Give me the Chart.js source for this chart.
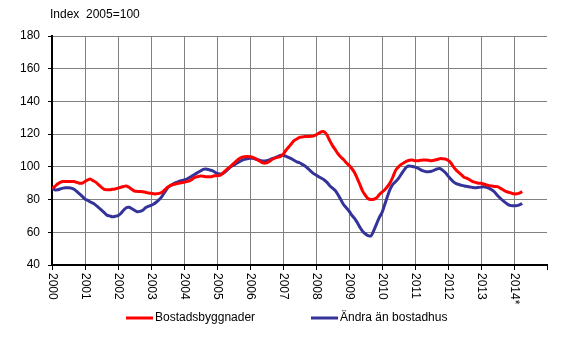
<!DOCTYPE html>
<html lang="sv">
<head>
<meta charset="utf-8">
<title>Byggkostnadsindex</title>
<script src="https://cdn.jsdelivr.net/npm/chart.js@4/dist/chart.umd.min.js"></script>
<style>
  html, body { margin: 0; padding: 0; background: #fff; }
  #wrap { position: relative; width: 568px; height: 338px; }
</style>
</head>
<body>
<div id="wrap"><canvas id="byggindex" width="568" height="338"></canvas></div>
<script>
  /* Månadsindex 2000:01 – 2014:04, index 2005=100 */
  const START_YEAR = 2000;
  const YEAR_LABELS = ['2000','2001','2002','2003','2004','2005','2006','2007',
                       '2008','2009','2010','2011','2012','2013','2014*'];

  const BOSTAD = [
    87, 88, 89.5, 90.5, 91, 91, 91, 91, 91, 90.5, 90, 90,                          // 2000
    91, 92, 92.5, 91.5, 90.5, 89, 87.5, 86.3, 86, 86, 86.3, 86.5,                  // 2001
    87, 87.5, 88, 88.3, 87.5, 86.3, 85.2, 85, 85, 84.8, 84.5, 84,                  // 2002
    83.8, 83.5, 83.5, 83.8, 84.5, 86, 87.5, 88.5, 89.2, 89.5, 90, 90.3,            // 2003
    90.5, 91, 91.5, 92.5, 93.5, 94, 94.4, 94.3, 94, 94, 94, 94.5,                  // 2004
    94.5, 94.8, 96, 97.5, 99, 100.5, 102, 103.5, 105, 105.8, 106.2, 106.3,         // 2005
    106.2, 105.8, 105, 104, 103, 102.3, 102.5, 103.3, 104.5, 105.3, 105.8, 106.3,  // 2006
    107.5, 110, 112, 114, 116, 117, 118, 118.3, 118.5, 118.5, 118.7, 118.8,        // 2007
    119.5, 120.5, 121.5, 121.5, 119.5, 116, 113, 110.5, 108, 106, 104.5, 102.5,    // 2008
    101, 99, 96.5, 93, 89, 85, 82.5, 80.5, 80, 80.2, 81, 83,                       // 2009
    84.5, 86, 88, 90.5, 94, 98, 100, 101.5, 102.5, 103.5, 104, 104.2,              // 2010
    103.8, 103.8, 104, 104.2, 104.2, 104, 103.8, 104, 104.5, 105, 105, 104.8,      // 2011
    104, 102.5, 100, 98, 96.5, 95, 93.5, 93, 92, 91, 90.5, 90,                     // 2012
    90, 89.5, 89, 88.5, 88.3, 88, 87.9, 87, 86, 85, 84.5, 84,                      // 2013
    83.5, 83.5, 84, 84.8                                                           // 2014
  ];

  const ANDRA = [
    86.9, 86, 86, 86.5, 87, 87.2, 87.2, 87, 86.3, 85, 83.5, 82,                    // 2000
    80.3, 79.5, 78.5, 77.7, 76.5, 75, 73.5, 72, 70.5, 70, 69.5, 69.8,              // 2001
    70.2, 71.5, 73.5, 75, 75.3, 74.5, 73.5, 72.6, 72.8, 73.5, 75, 75.8,            // 2002
    76.5, 77.3, 78.5, 80, 82, 84.5, 87, 88.5, 89.5, 90.3, 91, 91.5,                // 2003
    92, 92.5, 93.5, 94.5, 95.5, 96.5, 97.5, 98.5, 98.7, 98.3, 97.8, 97,            // 2004
    96, 95.6, 95.8, 97, 98.5, 100, 101, 102, 103, 104, 104.6, 105,                 // 2005
    105.2, 105.2, 104.8, 104.2, 103.8, 103.6, 103.8, 104.3, 105, 105.5, 106.2, 107,// 2006
    107.2, 106.5, 105.8, 105, 104, 103.1, 102.5, 101.5, 100.5, 99.1, 97.5, 96,     // 2007
    95, 94, 93, 92, 90.5, 88.5, 87, 85.5, 83, 80, 77, 75,                          // 2008
    73, 70.5, 68.5, 66, 63, 60.5, 59, 58, 57.8, 61, 65, 69,                        // 2009
    72, 77, 82, 86.5, 89.5, 91, 93, 95.5, 98, 100, 100.5, 100.2,                   // 2010
    99.8, 99.2, 98.3, 97.5, 97, 97, 97.3, 98, 98.7, 99, 98, 96.5,                  // 2011
    94.5, 92.5, 90.8, 89.8, 89.2, 88.7, 88.3, 88, 87.7, 87.4, 87.2, 87.4,          // 2012
    87.6, 87.9, 87.5, 86.8, 85.8, 84.5, 82.5, 80.8, 79.3, 78, 76.8, 76.3,          // 2013
    76.2, 76.3, 76.8, 77.6                                                         // 2014
  ];

  const SERIES_NAMES = ['Bostadsbyggnader', 'Ändra än bostadhus'];
  const RED  = '#ff0000';
  const BLUE = '#333399';
  const GRID = '#808080';
  const FONT = "'Liberation Sans', Arial, sans-serif";

  function toPoints(arr) {
    return arr.map(function (v, i) { return { x: START_YEAR + i / 12, y: v }; });
  }

  /* Rubrik, roterade årtal och förklaring ritas direkt på canvasen */
  const textPlugin = {
    id: 'textPlugin',
    afterDraw: function (chart) {
      const ctx = chart.ctx;
      const xs = chart.scales.x;
      const area = chart.chartArea;
      ctx.save();
      ctx.fillStyle = '#000';
      ctx.font = '12px ' + FONT;

      ctx.textAlign = 'left';
      ctx.textBaseline = 'alphabetic';
      ctx.fillText('Index  2005=100', 50, 18);

      // årtal, vridna 90° medurs
      ctx.textBaseline = 'middle';
      YEAR_LABELS.forEach(function (lab, i) {
        const px = xs.getPixelForValue(START_YEAR + i);
        ctx.save();
        ctx.translate(px + 0.5, area.bottom + 8);
        ctx.rotate(Math.PI / 2);
        ctx.fillText(lab, 0, 0);
        ctx.restore();
      });

      // förklaring
      const legendY = 318;
      [[126, RED], [311, BLUE]].forEach(function (item, i) {
        ctx.strokeStyle = item[1];
        ctx.lineWidth = 3;
        ctx.beginPath();
        ctx.moveTo(item[0], legendY);
        ctx.lineTo(item[0] + 27, legendY);
        ctx.stroke();
        ctx.fillText(SERIES_NAMES[i], item[0] + 29, legendY);
      });
      ctx.restore();
    }
  };

  new Chart(document.getElementById('byggindex'), {
    type: 'line',
    data: {
      datasets: [
        {
          label: SERIES_NAMES[0],
          data: toPoints(BOSTAD),
          borderColor: RED,
          borderWidth: 3,
          pointRadius: 0,
          tension: 0.3,
          fill: false
        },
        {
          label: SERIES_NAMES[1],
          data: toPoints(ANDRA),
          borderColor: BLUE,
          borderWidth: 3,
          pointRadius: 0,
          tension: 0.3,
          fill: false
        }
      ]
    },
    options: {
      responsive: false,
      animation: false,
      events: [],
      layout: { padding: { top: 36, right: 21, left: 0, bottom: 0 } },
      plugins: {
        legend: { display: false },
        tooltip: { enabled: false },
        title: { display: false }
      },
      scales: {
        x: {
          type: 'linear',
          min: 2000,
          max: 2015,
          ticks: { display: false, stepSize: 1 },
          grid: {
            color: function (c) { return c.tick && c.tick.value === 2015 ? 'rgba(0,0,0,0)' : GRID; },
            tickColor: '#000',
            tickLength: 5,
            lineWidth: 1
          },
          border: { color: '#000', width: 2 },
          afterFit: function (s) { s.height = 73; }
        },
        y: {
          min: 40,
          max: 180,
          ticks: {
            stepSize: 20,
            color: '#000',
            font: { family: FONT, size: 12 },
            padding: 8
          },
          grid: { color: GRID, tickColor: '#000', tickLength: 4, lineWidth: 1 },
          border: { color: '#000', width: 2 },
          afterFit: function (s) { s.width = 52; }
        }
      }
    },
    plugins: [textPlugin]
  });
</script>
</body>
</html>
